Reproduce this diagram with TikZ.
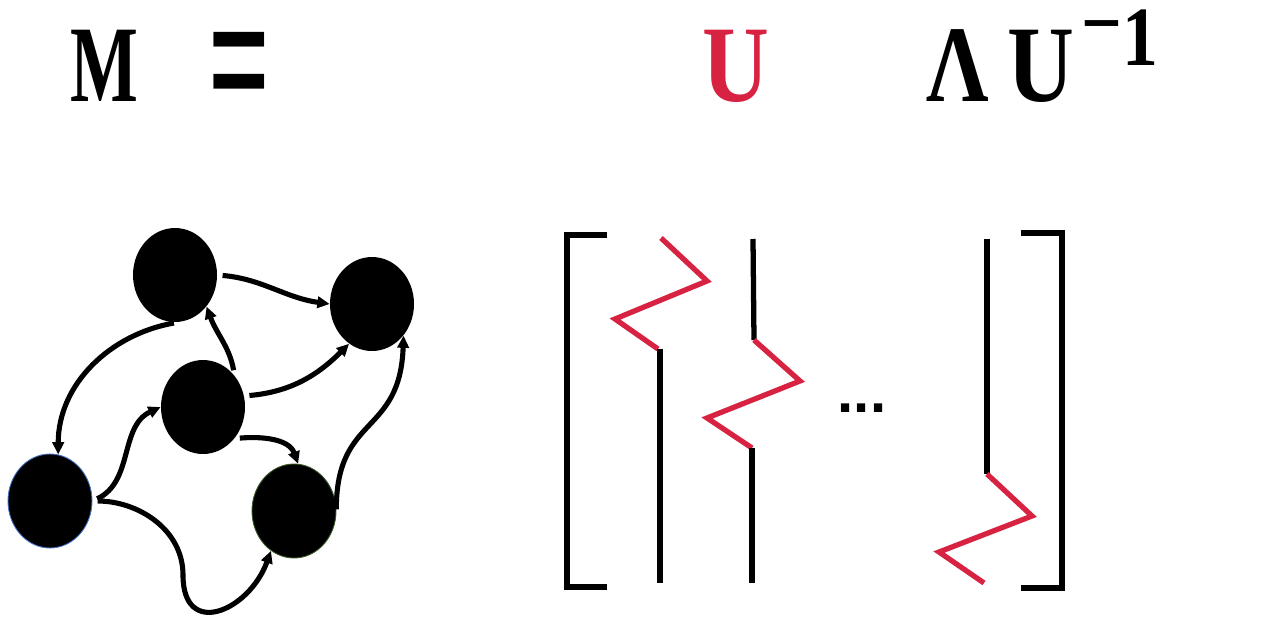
\documentclass[tikz,border=0pt]{standalone}
\usepackage{fontspec}
\usepackage{graphicx}
\usepackage{xcolor}
\usetikzlibrary{arrows.meta,shapes.geometric}
\newfontfamily\eqfont{Liberation Serif}
\newfontfamily\dotfont{Liberation Sans}
\definecolor{ured}{RGB}{215,34,66}
\definecolor{dblue}{RGB}{68,114,196}
\definecolor{egreen}{RGB}{56,87,35}
\tikzset{
  gnode/.style={
    ellipse,
    fill=black,
    minimum width=1.68cm,
    minimum height=1.88cm,
    inner sep=0pt
  },
  connection/.style={
    line width=2.9pt,
    -{Triangle[length=7pt,width=6.5pt]},
    shorten <=3pt
  },
  eqtext/.style={
    anchor=base,
    inner sep=0pt,
    font=\eqfont\bfseries\fontsize{62}{72}\selectfont
  },
  bracket/.style={line width=3.3pt},
  column/.style={line width=3pt},
  zigzag/.style={line width=3pt, draw=ured}
}
\newcommand{\squeeze}[2][0.66]{\scalebox{#1}[1]{#2}}

\begin{document}
\begin{tikzpicture}[x=0.02cm, y=0.02cm]
  \useasboundingbox (0,0) rectangle (1270,623);

  % equation line
  \node[eqtext] (M) at (104,521) {\squeeze{M}};
  \node[eqtext, anchor=center] (eq) at (240,542) {\scalebox{1.0}[1.93]{=}};
  \node[eqtext, text=ured] (U) at (736,521) {\squeeze[0.85]{U}};
  \node[eqtext] (lam) at (958,521) {\squeeze[0.8]{Λ}};
  \node[eqtext, anchor=base west] (Uinv) at (1007,521)
    {\squeeze[0.85]{U}\hspace{4pt}\raisebox{21pt}{\fontsize{48}{48}\selectfont\scalebox{0.85}[1]{\raisebox{8pt}{−}1}}};

  % graph
  \node[gnode] (A) at (175,348) {};
  \node[gnode] (B) at (372,319) {};
  \node[gnode] (C) at (203,216) {};
  \node[gnode, draw=dblue, line width=0.5pt] (D) at (50,122) {};
  \node[gnode, draw=egreen, line width=0.5pt] (E) at (294,112) {};
  \coordinate (dip) at (183,48);

  \draw[connection] (A.east) to[out=-5, in=172] (B.west);
  \draw[connection] (A.-85) to[out=190, in=90] (D.80);
  \draw[connection] (C.45) to[out=100, in=-70] (A.-45);
  \draw[connection] (C.15) to[out=5, in=-135] (B.-120);
  \draw[connection] (C.-45) to[out=5, in=110] (E.85);
  \draw[connection] (D.east) to[out=25, in=205] (C.west);
  \draw[connection] (D.east) to[out=0, in=90] (dip) to[out=-90, in=-110, looseness=1.8] (E.-120);
  \draw[connection] (E.-5) to[out=90, in=-92, looseness=1.35] (B.-45);

  % eigenvector matrix
  \draw[bracket] (607,388) -- (567,388) -- (567,36) -- (607,36);
  \draw[bracket] (1021,390) -- (1062,390) -- (1062,35) -- (1021,35);
  % first column
  \draw[zigzag] (661,385) -- (707,342) -- (615,304) -- (658,274);
  \draw[column] (660,274) -- (660,40);
  % second column
  \draw[column] (753,384) -- (754,283);
  \draw[zigzag] (754,283) -- (800,242) -- (707,205) -- (752,175);
  \draw[column] (752,175) -- (752,40);
  % last column
  \draw[column] (987,384) -- (987,149);
  \draw[zigzag] (987,149) -- (1032,107) -- (939,71) -- (984,40);

  \node[font=\dotfont\bfseries\fontsize{33}{36}\selectfont] (dots) at (862,215) {...};
\end{tikzpicture}
\end{document}
